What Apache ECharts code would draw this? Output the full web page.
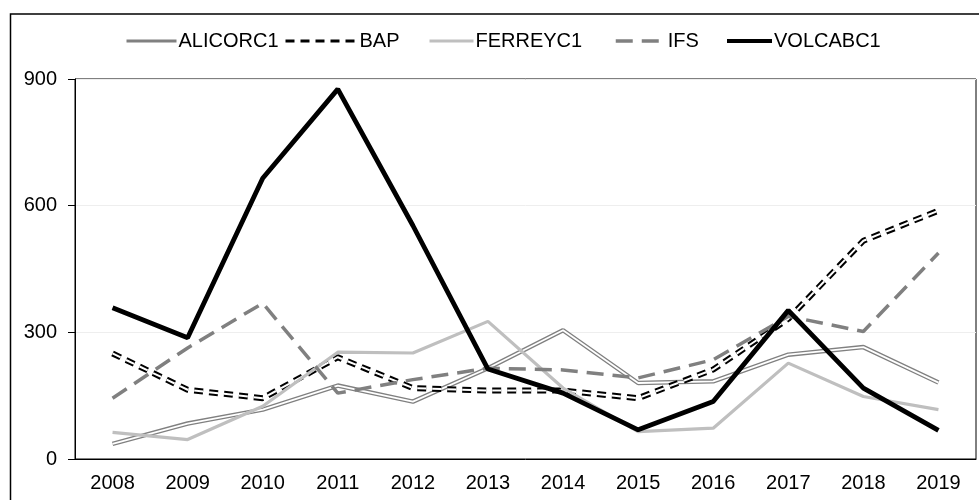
<!DOCTYPE html>
<html>
<head>
<meta charset="utf-8">
<script src="https://cdn.jsdelivr.net/npm/echarts@6/dist/echarts.min.js"></script>
<style>
html,body{margin:0;padding:0;background:#fff;}
#chart{width:979px;height:500px;}
</style>
</head>
<body>
<div id="chart"></div>
<script>
var years = ['2008','2009','2010','2011','2012','2013','2014','2015','2016','2017','2018','2019'];
var yTicks = [0, 300, 600, 900];
var alicorc1 = [36, 84, 117, 174, 136, 215, 305, 180, 184, 247, 265, 181];
var bap = [250, 164, 144, 241, 168, 162, 162, 144, 212, 332, 517, 588];
var ferreyc1 = [63, 46, 125, 253, 251, 326, 168, 65, 73, 227, 148, 117];
var ifs = [144, 263, 369, 156, 188, 215, 211, 192, 235, 338, 302, 488];
var volcabc1 = [358, 287, 665, 876, 553, 213, 156, 69, 136, 352, 168, 68];

var FONT = "'Liberation Sans', Arial, sans-serif";
var chart = echarts.init(document.getElementById('chart'), null, {renderer: 'canvas'});

function legendAt(name, left, w, lw) {
  return {
    data: [name], left: left, top: 31, itemWidth: w, itemHeight: 14,
    padding: 0, selectedMode: false,
    itemStyle: {opacity: 0},
    lineStyle: {width: lw},
    textStyle: {fontFamily: FONT, fontSize: 20, color: '#000', padding: [0,0,0,-3]}
  };
}

var option = {
  animation: false,
  backgroundColor: '#fff',
  graphic: [{
    type: 'rect', silent: true,
    shape: {x: 10.5, y: 14, width: 1200, height: 800},
    style: {fill: 'none', stroke: '#000', lineWidth: 1.5}
  }],
  legend: [
    legendAt('ALICORC1', 125, 50, 3),
    legendAt('BAP', 284, 72, 3),
    legendAt('FERREYC1', 428, 44, 3),
    legendAt('IFS', 614, 50, 3.5),
    legendAt('VOLCABC1', 725, 45, 4)
  ],
  grid: {left: 75, right: 3, top: 79, bottom: 41, show: true, borderColor: '#000', borderWidth: 1, backgroundColor: 'transparent'},
  xAxis: {
    type: 'category', data: years, boundaryGap: true,
    axisLine: {lineStyle: {color: '#000', width: 1}},
    axisTick: {show: false},
    axisLabel: {fontFamily: FONT, fontSize: 20, color: '#000', margin: 14}
  },
  yAxis: {
    type: 'value', min: yTicks[0], max: yTicks[yTicks.length-1], interval: yTicks[1]-yTicks[0],
    axisLine: {show: true, lineStyle: {color: '#000', width: 1}},
    axisTick: {show: true, length: 7, lineStyle: {color: '#000'}},
    splitLine: {lineStyle: {color: '#eeeeee', width: 1}},
    axisLabel: {fontFamily: FONT, fontSize: 20, color: '#000', margin: 18}
  },
  series: [
    {name: 'ALICORC1', type: 'line', data: alicorc1, symbol: 'none',
     lineStyle: {color: '#808080', width: 4.5}, itemStyle: {color: '#808080'}},
    {name: 'ALICORC1 inner', type: 'line', data: alicorc1, symbol: 'none', silent: true,
     lineStyle: {color: '#ffffff', width: 1.8}, itemStyle: {color: '#ffffff'}},
    {name: 'BAP', type: 'line', data: bap, symbol: 'none',
     lineStyle: {color: '#000', width: 6, type: [9, 6]}, itemStyle: {color: '#000'}},
    {name: 'BAP inner', type: 'line', data: bap, symbol: 'none', silent: true,
     lineStyle: {color: '#ffffff', width: 2, type: [9, 6]}, itemStyle: {color: '#ffffff'}},
    {name: 'FERREYC1', type: 'line', data: ferreyc1, symbol: 'none',
     lineStyle: {color: '#bfbfbf', width: 3.2}, itemStyle: {color: '#bfbfbf'}},
    {name: 'IFS', type: 'line', data: ifs, symbol: 'none',
     lineStyle: {color: '#808080', width: 3.5, type: [17, 9]}, itemStyle: {color: '#808080'}},
    {name: 'VOLCABC1', type: 'line', data: volcabc1, symbol: 'none',
     lineStyle: {color: '#000', width: 4.8}, itemStyle: {color: '#000'}}
  ]
};
chart.setOption(option);
</script>
</body>
</html>
